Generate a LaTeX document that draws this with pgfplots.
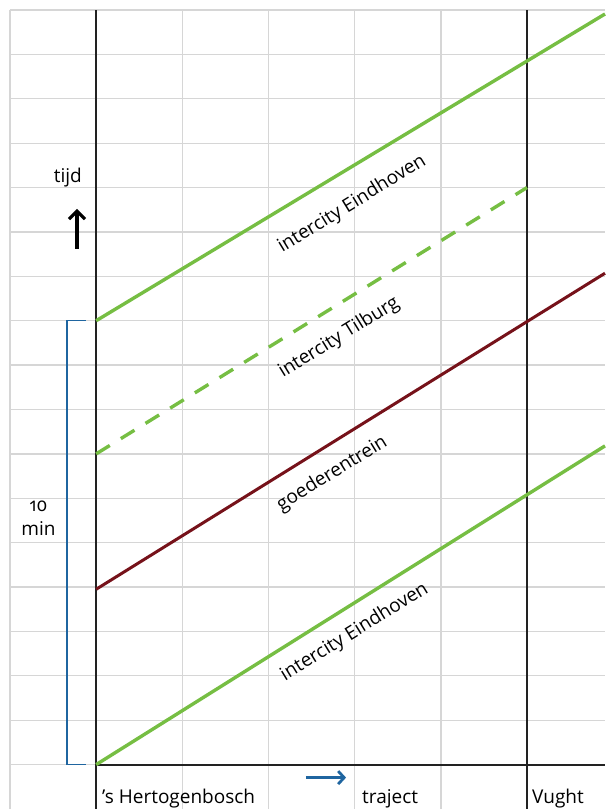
\documentclass[border=0pt]{standalone}
\usepackage{fontspec}
\setmainfont{Open Sans}[Numbers=OldStyle]
\usepackage{pgfplots}
\pgfplotsset{compat=1.18}
\usetikzlibrary{arrows.meta}
\definecolor{icgreen}{HTML}{76BE43}
\definecolor{goods}{HTML}{76121A}
\definecolor{bracketblue}{HTML}{1F65A0}
\definecolor{gridgray}{HTML}{D6D6D6}
\definecolor{axblack}{HTML}{222222}
\begin{document}
\begin{tikzpicture}
\begin{axis}[
  scale only axis,
  width=595pt, height=799pt,
  xmin=0, xmax=6.905, ymin=-1, ymax=17,
  xtick={0,...,6}, ytick={0,...,17},
  xticklabels={}, yticklabels={},
  major tick length=0pt,
  grid=major,
  major grid style={gridgray, line width=1.3pt},
  axis line style={draw=none},
  clip=false,
  font=\fontsize{19}{22}\selectfont,
]
% structural black lines
\draw[axblack, line width=2pt] (axis cs:1,-1) -- (axis cs:1,17);
\draw[axblack, line width=2pt] (axis cs:6,-1) -- (axis cs:6,17);
\draw[axblack, line width=2pt] (axis cs:1,0) -- (axis cs:6.905,0);
% trains
\addplot[icgreen, line width=3.4pt, no marks] coordinates {(1,0) (6,6.08) (6.905,7.18)};
\addplot[goods, line width=3pt, no marks] coordinates {(1,3.95) (6,9.98) (6.905,11.07)};
\addplot[icgreen, line width=3.4pt, no marks, dash pattern=on 16pt off 13pt] coordinates {(1,7) (6,13)};
\addplot[icgreen, line width=3.4pt, no marks] coordinates {(1,10) (6,15.85) (6.905,16.91)};
% line labels
\node[rotate=31.5] at (axis cs:3.97,12.62) {intercity Eindhoven};
\node[rotate=31.7] at (axis cs:3.82,9.62) {intercity Tilburg};
\node[rotate=31.7] at (axis cs:3.74,6.55) {goederentrein};
\node[rotate=31.7] at (axis cs:4.0,2.98) {intercity Eindhoven};
% time axis
\node[anchor=base east, inner sep=0pt] at (axis cs:0.836,13.11) {tijd};
\draw[black, line width=3.2pt, -{Straight Barb[length=8pt,width=16pt]}] (axis cs:0.778,11.62) -- (axis cs:0.778,12.52);
% bracket
\draw[bracketblue, line width=1.4pt] (axis cs:0.882,10) -- (axis cs:0.661,10) -- (axis cs:0.661,0) -- (axis cs:0.882,0);
\node[align=center, inner sep=0pt, font=\fontsize{19}{24}\selectfont] at (axis cs:0.33,5.56) {10\\min};
% distance axis
\draw[bracketblue, line width=2.8pt, -{Straight Barb[length=6pt,width=13pt]}] (axis cs:3.435,-0.293) -- (axis cs:3.90,-0.293);
\node[anchor=base west, inner sep=0pt] at (axis cs:1.068,-0.88) {’s Hertogenbosch};
\node[anchor=base west, inner sep=0pt] at (axis cs:4.085,-0.88) {traject};
\node[anchor=base west, inner sep=0pt] at (axis cs:6.058,-0.88) {Vught};
\coordinate (bl) at (axis cs:-0.116,-1);
\coordinate (tr) at (axis cs:6.905,17.225);
\end{axis}
\pgfresetboundingbox
\useasboundingbox (bl) rectangle (tr);
\end{tikzpicture}
\end{document}
